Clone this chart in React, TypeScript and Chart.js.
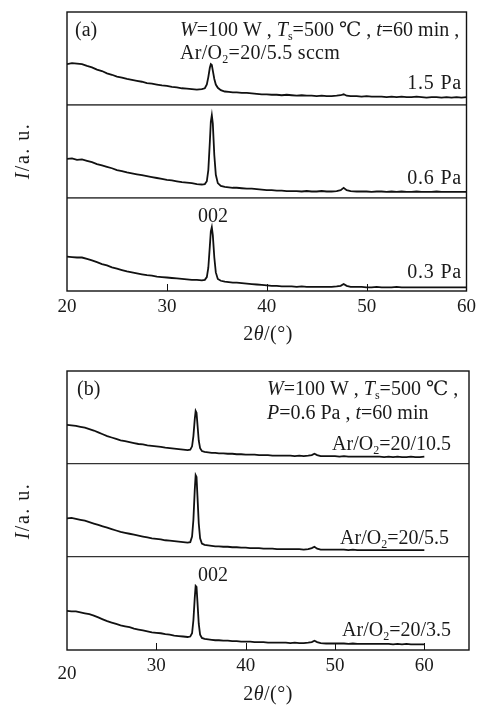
import React, { useEffect, useRef } from 'react';
import { Chart, registerables } from 'chart.js';
Chart.register(...registerables);

// 2θ positions (degrees) shared by every trace
const theta = [
  20, 20.5, 21, 21.5, 22, 22.5, 23, 23.5, 24, 24.5, 25, 25.5, 26, 26.5, 27, 27.5, 28, 28.5, 29, 29.5, 30, 30.5, 31, 31.5, 32, 32.5, 33, 33.5,
  33.8, 34.0, 34.15, 34.3, 34.4, 34.5, 34.6, 34.75, 34.9, 35.1, 35.4, 35.8, 36.2, 36.6,
  37, 37.5, 38, 38.5, 39, 39.5, 40, 40.5, 41, 41.5, 42, 42.5, 43, 43.5, 44, 44.5, 45, 45.5, 46, 46.5, 47,
  47.4, 47.7, 48.0, 48.4,
  49, 49.5, 50, 50.5, 51, 51.5, 52, 52.5, 53, 53.5, 54, 54.5, 55, 55.5, 56, 56.5, 57, 57.5, 58, 58.5, 59, 59.5, 60,
];

// Panel (a): pressure series (relative intensity, a.u.)
const int_a_15Pa = [
  44, 45, 44.5, 44, 42, 40.5, 38, 36.5, 34, 32.5, 30.5, 29.5, 28, 27, 26, 25, 23.5, 23, 22, 21, 20.5, 19.5, 19, 18, 17.5, 17, 16.5, 17,
  18, 22, 30, 40, 44, 43, 37, 28, 22, 18.5, 16, 14.5, 14, 13.5,
  13.5, 13, 13, 12.5, 12, 11.5, 11.5, 11, 11, 10.5, 11, 10.5, 10, 10.5, 10, 10, 9.5, 10, 9.5, 9.5, 10,
  10.5, 11.5, 10, 9.5,
  9.5, 9, 9.5, 9, 9, 9, 8.5, 9, 8.5, 9, 8.5, 8.5, 9, 8.5, 8, 8.5, 8.5, 8, 8.5, 8, 8.5, 8, 8.5,
];
const int_a_06Pa = [
  42, 42.5, 41, 41.5, 40, 38.5, 36.5, 35, 33.5, 32, 30, 29, 27.5, 26.5, 25.5, 24.5, 23.5, 22.5, 21.5, 20.5, 19.5, 19, 18, 17, 16.5, 16, 15, 14.5,
  15, 18, 30, 60, 82, 89, 80, 46, 25, 16, 13, 12, 11.5, 11,
  11, 10.5, 10, 10, 9.5, 9, 8.5, 8.5, 8, 8, 7.5, 7.5, 7.5, 7, 7.5, 7, 7, 7.5, 7, 7, 7.5,
  8.5, 11, 8.5, 7.5,
  7, 7, 7, 6.5, 7, 7, 6.5, 7, 6.5, 7, 6.5, 6.5, 7, 6.5, 6.5, 6.5, 7, 6.5, 6.5, 6.5, 6.5, 6.5, 6.5,
];
const int_a_03Pa = [
  37, 36.5, 36, 36, 34.5, 33, 31, 29, 27.5, 25.5, 24, 22.5, 21, 20, 19, 18, 17, 16.5, 15.5, 15, 14.5, 14, 13.5, 13, 12.5, 12, 12, 11.5,
  12, 15, 25, 48, 64, 68.5, 60, 36, 20, 13, 11, 10, 9.5, 9,
  9, 8.5, 8, 7.5, 7, 6.5, 6, 5.5, 5.5, 5, 5, 5, 4.5, 5, 4.5, 4.5, 4.5, 4.5, 4.5, 4.5, 5,
  5.5, 7.5, 5.5, 4.5,
  4.5, 4.5, 4, 4, 4.5, 4, 4, 4, 4.5, 4, 4, 4, 4, 4, 4, 4, 4, 4, 4, 4, 4, 4, 4,
];

// Panel (b): Ar/O2 flow series (relative intensity, a.u.)
const int_b_105 = [
  42, 41.5, 41, 40, 39, 37.5, 36, 34, 32, 30, 28.5, 27, 25.5, 24.5, 23.5, 22.5, 21.5, 21, 20, 19.5, 19, 18.5, 17.5, 17, 16.5, 16, 15.5, 15,
  15.5, 19, 30, 48, 57, 55, 43, 25, 17, 14, 13, 12.5, 12, 12,
  11.5, 11.5, 11, 11, 10.5, 10.5, 10, 10, 10, 9.5, 9.5, 9.5, 9, 9, 9, 9, 9, 8.5, 9, 8.5, 9,
  9.5, 11, 9.5, 8.5,
  8.5, 8.5, 8.5, 8, 8.5, 8, 8, 8, 8, 8, 8, 8, 8, 7.5, 8, 7.5, 8, 7.5, 7.5, 8, 7.5, 7.5, 8,
];
const int_b_55 = [
  41.5, 42, 41, 40, 39, 37.5, 36, 34.5, 33, 31.5, 30, 28.5, 27, 26, 25, 24, 23, 22, 21, 20, 19.5, 19, 18, 17.5, 17, 16.5, 16, 15.5,
  16, 22, 40, 72, 88, 86, 66, 36, 20, 14.5, 13, 12.5, 12, 11.5,
  11.5, 11, 11, 10.5, 10.5, 10, 10, 9.5, 9.5, 9.5, 9, 9, 9, 8.5, 8.5, 8.5, 8.5, 8.5, 8.5, 8, 8.5,
  9.5, 11, 9, 8,
  8, 8, 8, 8, 8, 7.5, 8, 7.5, 7.5, 7.5, 7.5, 7.5, 7.5, 7.5, 7.5, 7.5, 7.5, 7.5, 7.5, 7.5, 7.5, 7.5, 7.5,
];
const int_b_35 = [
  42, 41.5, 41.5, 40.5, 39.5, 38.5, 37, 35, 33, 31, 29.5, 28, 26.5, 25.5, 24.5, 23, 22, 21, 20, 19, 18.5, 18, 17, 16.5, 15.5, 15, 14.5, 14,
  14.5, 18, 32, 56, 69, 68, 52, 28, 16.5, 13, 12, 11.5, 11, 10.5,
  10.5, 10, 10, 9.5, 9.5, 9, 9, 9, 8.5, 8.5, 8.5, 8, 8, 8, 8, 8, 7.5, 8, 7.5, 7.5, 8,
  8.5, 10, 8.5, 7.5,
  7, 7, 7, 7, 7, 6.5, 7, 6.5, 6.5, 6.5, 6.5, 6.5, 6.5, 6.5, 6.5, 6, 6.5, 6, 6.5, 6, 6, 6, 6,
];

const xTickLabelsA = [20, 30, 40, 50, 60];
const xTickLabelsB = [20, 30, 40, 50, 60];
const labelsA = ['1.5 Pa', '0.6 Pa', '0.3 Pa'];
const labelsB = ['20/10.5', '20/5.5', '20/3.5'];

const BAND = 100;
const FONT = '"Liberation Serif", "DejaVu Serif", serif';

type Run = { t: string; i?: boolean; sub?: boolean };
type Note = { runs: Run[]; x: number; y: number; align: 'left' | 'right' | 'center'; size?: number; rot?: boolean; ls?: number };

function drawRich(ctx: CanvasRenderingContext2D, n: Note) {
  const size = n.size ?? 20;
  const fontFor = (r: Run) => `${r.i ? 'italic ' : ''}${r.sub ? Math.round(size * 0.62) : size}px ${FONT}`;
  ctx.save();
  (ctx as any).letterSpacing = `${n.ls ?? 0}px`;
  const widths = n.runs.map((r) => {
    ctx.font = fontFor(r);
    return ctx.measureText(r.t).width;
  });
  const total = widths.reduce((a, b) => a + b, 0);
  let ox = n.x, oy = n.y;
  if (n.rot) {
    ctx.translate(n.x, n.y);
    ctx.rotate(-Math.PI / 2);
    ox = 0; oy = 0;
  }
  let cx = n.align === 'left' ? ox : n.align === 'right' ? ox - total : ox - total / 2;
  const base = oy + size * 0.33;
  ctx.textAlign = 'left';
  ctx.textBaseline = 'alphabetic';
  ctx.fillStyle = '#1a1a1a';
  n.runs.forEach((r, k) => {
    ctx.font = fontFor(r);
    ctx.fillText(r.t, cx, base + (r.sub ? size * 0.2 : 0));
    cx += widths[k];
  });
  ctx.restore();
}

type PanelCfg = {
  height: number;
  padTop: number;
  xHeight: number;
  xMax: number;
  xTicks: number[];
  innerTicks: number[];
  series: number[][];
  sepColor: string;
  sepWidth: number;
  lowLabel20: boolean;
  notes: Note[];
};

const ar = (v: string): Run[] => [{ t: 'Ar/O' }, { t: '2', sub: true }, { t: '=' + v }];

const panelA: PanelCfg = {
  height: 350,
  padTop: 12,
  xHeight: 59,
  xMax: 60,
  xTicks: xTickLabelsA,
  innerTicks: [30, 40, 50],
  series: [int_a_15Pa, int_a_06Pa, int_a_03Pa],
  sepColor: '#505050',
  sepWidth: 1.8,
  lowLabel20: false,
  notes: [
    { runs: [{ t: '(a)' }], x: 75, y: 29, align: 'left' },
    {
      runs: [{ t: 'W', i: true }, { t: '=100 W , ' }, { t: 'T', i: true }, { t: 's', sub: true }, { t: '=500 ℃ , ' }, { t: 't', i: true }, { t: '=60 min ,' }],
      x: 180, y: 29, align: 'left',
    },
    { runs: [...ar('20/5.5 sccm')], x: 180, y: 52, align: 'left', ls: 0.3 },
    { runs: [{ t: labelsA[0] }], x: 462, y: 82, align: 'right', ls: 0.8 },
    { runs: [{ t: labelsA[1] }], x: 462, y: 177, align: 'right', ls: 0.8 },
    { runs: [{ t: '002' }], x: 213, y: 215, align: 'center' },
    { runs: [{ t: labelsA[2] }], x: 462, y: 271, align: 'right', ls: 0.8 },
    { runs: [{ t: 'I', i: true }, { t: '/a. u.' }], x: 22, y: 151, align: 'center', rot: true, ls: 1.5 },
    { runs: [{ t: '2' }, { t: 'θ', i: true }, { t: '/(°)' }], x: 268, y: 333, align: 'center', ls: 0.5 },
  ],
};

const panelB: PanelCfg = {
  height: 361,
  padTop: 21,
  xHeight: 61,
  xMax: 65,
  xTicks: xTickLabelsB,
  innerTicks: [30, 40, 50, 60],
  series: [int_b_105, int_b_55, int_b_35],
  sepColor: '#333333',
  sepWidth: 1.3,
  lowLabel20: true,
  notes: [
    { runs: [{ t: '(b)' }], x: 77, y: 38, align: 'left' },
    {
      runs: [{ t: 'W', i: true }, { t: '=100 W , ' }, { t: 'T', i: true }, { t: 's', sub: true }, { t: '=500 ℃ ,' }],
      x: 267, y: 38, align: 'left',
    },
    {
      runs: [{ t: 'P', i: true }, { t: '=0.6 Pa , ' }, { t: 't', i: true }, { t: '=60 min' }],
      x: 267, y: 62, align: 'left',
    },
    { runs: ar(labelsB[0]), x: 451, y: 93, align: 'right' },
    { runs: ar(labelsB[1]), x: 449, y: 187, align: 'right' },
    { runs: [{ t: '002' }], x: 213, y: 224, align: 'center' },
    { runs: ar(labelsB[2]), x: 451, y: 279, align: 'right' },
    { runs: [{ t: 'I', i: true }, { t: '/a. u.' }], x: 22, y: 161, align: 'center', rot: true, ls: 1.5 },
    { runs: [{ t: '2' }, { t: 'θ', i: true }, { t: '/(°)' }], x: 268, y: 343, align: 'center', ls: 0.5 },
  ],
};

function makeDecor(cfg: PanelCfg) {
  return {
    id: 'decor',
    afterDraw(chart: any) {
      const { ctx, chartArea: a, scales } = chart;
      ctx.save();
      ctx.strokeStyle = '#111';
      ctx.lineWidth = 1;
      cfg.innerTicks.forEach((v) => {
        const px = Math.round(scales.x.getPixelForValue(v)) + 0.5;
        ctx.beginPath();
        ctx.moveTo(px, a.bottom);
        ctx.lineTo(px, a.bottom - 7);
        ctx.stroke();
      });
      ctx.lineWidth = 1.4;
      ctx.strokeStyle = '#111';
      ctx.strokeRect(a.left, a.top, a.right - a.left, a.bottom - a.top);
      ctx.restore();
      cfg.notes.forEach((n) => drawRich(ctx, n));
    },
  };
}

function Panel({ cfg, top }: { cfg: PanelCfg; top: number }) {
  const ref = useRef<HTMLCanvasElement>(null);
  useEffect(() => {
    const bands = [2, 1, 0];
    const datasets = cfg.series.map((vals, k) => ({
      data: theta.map((t, i) => ({ x: t, y: bands[k] * BAND + vals[i] })),
      borderColor: '#111',
      borderWidth: 1.8,
      pointRadius: 0,
      fill: false,
      tension: 0,
    }));
    const chart = new Chart(ref.current!, {
      type: 'line',
      data: { datasets },
      options: {
        animation: false,
        responsive: false,
        maintainAspectRatio: false,
        events: [],
        layout: { padding: { top: cfg.padTop, right: 12, left: 0, bottom: 0 } },
        plugins: { legend: { display: false }, tooltip: { enabled: false } },
        scales: {
          x: {
            type: 'linear',
            min: 20,
            max: cfg.xMax,
            afterBuildTicks: (s: any) => {
              s.ticks = cfg.xTicks.map((v) => ({ value: v }));
            },
            afterFit: (s: any) => {
              s.height = cfg.xHeight;
            },
            grid: { display: false, drawTicks: false },
            border: { display: false },
            ticks: {
              padding: 5,
              color: '#1a1a1a',
              autoSkip: false,
              maxRotation: 0,
              font: (c: any) => ({
                family: FONT,
                size: 19,
                lineHeight: cfg.lowLabel20 && c.tick && c.tick.value === 20 ? 1.97 : 1.2,
              }),
              callback: (v: any) => String(v),
            },
          },
          y: {
            type: 'linear',
            min: 0,
            max: 3 * BAND,
            afterBuildTicks: (s: any) => {
              s.ticks = [{ value: BAND }, { value: 2 * BAND }];
            },
            afterFit: (s: any) => {
              s.width = 67;
            },
            grid: { display: true, drawTicks: false, color: cfg.sepColor, lineWidth: cfg.sepWidth },
            border: { display: false },
            ticks: { display: false },
          },
        },
      },
      plugins: [makeDecor(cfg)],
    } as any);
    return () => chart.destroy();
  }, [cfg]);
  return (
    <canvas
      ref={ref}
      width={481}
      height={cfg.height}
      style={{ position: 'absolute', left: 0, top, width: 481, height: cfg.height }}
    />
  );
}

export default function App() {
  return (
    <div style={{ position: 'absolute', left: 0, top: 0, width: 481, height: 711, background: '#fff' }}>
      <Panel cfg={panelA} top={0} />
      <Panel cfg={panelB} top={350} />
    </div>
  );
}
